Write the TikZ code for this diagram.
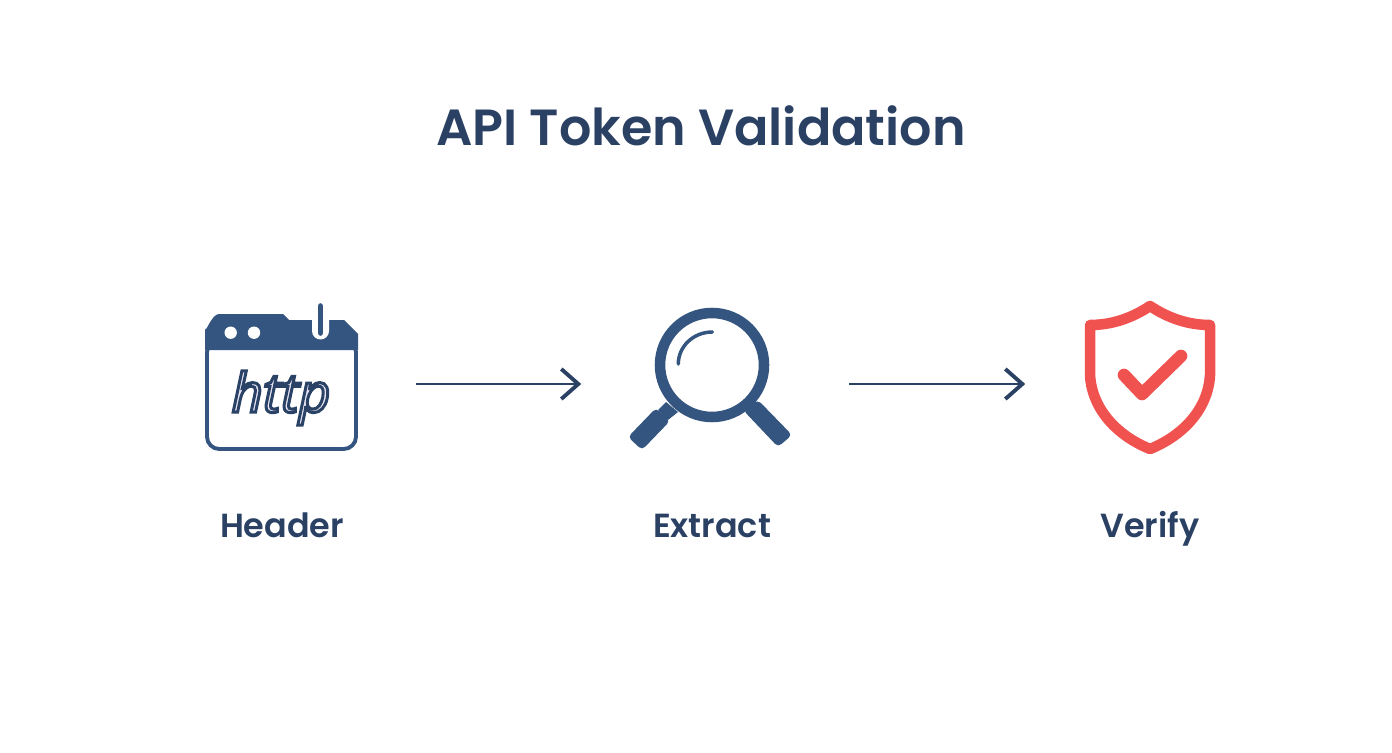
\documentclass[tikz,border=0pt]{standalone}
\usepackage{fontspec}
\setmainfont{Poppins SemiBold}
\newfontfamily\httpfont{Open Sans}
\usetikzlibrary{arrows.meta}
\definecolor{navy}{HTML}{2A4164}
\definecolor{iconblue}{HTML}{34557F}
\definecolor{shieldred}{HTML}{F0524F}
\tikzset{
 label/.style={text=navy,font=\fontsize{9.5}{11}\selectfont,inner sep=0pt,anchor=base},
 slot/.style={minimum height=1cm,inner sep=0pt},
 flow/.style={navy,line width=0.85pt,-{Straight Barb[length=1.7mm,width=3mm,line width=1.1pt]}},
}
\newcommand{\outlined}[1]{\special{pdf:code q 2 Tr 0.85 w 0.16 0.26 0.40 RG 0.91 0.90 0.96 rg}#1\special{pdf:code Q}}
\begin{document}
\begin{tikzpicture}[x=0.01cm,y=-0.01cm]
 \useasboundingbox (0,0) rectangle (1392,752);
 \node[text=navy,font=\fontsize{14.45}{18}\selectfont,inner sep=0pt,anchor=base] (title) at (701,146) {API Token Validation};
 % slots that the arrows run between
 \node[slot,minimum width=2.67cm] (header) at (281.5,384) {};
 \node[slot,minimum width=2.66cm] (extract) at (715,384) {};
 \node[slot,minimum width=2.48cm] (verify) at (1150,384) {};
 \draw[flow] (header.east) -- (extract.west);
 \draw[flow] (extract.east) -- (verify.west);
 % browser window
 \draw[iconblue,line width=1.1pt,rounded corners=3.5pt] (207,340) rectangle (356,449);
 \fill[iconblue] (205,350) -- (205,328) to[out=-90,in=180] (219,314) -- (283,314) -- (289,320) -- (344,320) -- (358,334) -- (358,350) -- cycle;
 \fill[white] (312,318) -- (312,331) arc (180:0:8.5) -- (329,318) -- cycle;
 \draw[iconblue,line width=1.6pt,line cap=round] (320.5,306) -- (320.5,333);
 \fill[white] (230.7,332.7) circle (6.2) (254,332.7) circle (6.2);
 \node[font=\httpfont\fontsize{15.5}{16}\selectfont\itshape,inner sep=0pt] (http) at (281,398) {\outlined{http}};
 % magnifier
 \draw[iconblue,line width=3pt] (712,365) circle (52);
 \draw[iconblue,line width=1pt,line cap=round] (678.3,364) arc (180:270:34 and 32);
 \fill[iconblue] (666,402) -- (678,412) -- (668,420) -- (658,410) -- cycle;
 \fill[iconblue,rounded corners=1.2pt] (656,408) -- (670,421) -- (642,450) -- (628,437) -- cycle;
 \fill[iconblue,rounded corners=1.2pt] (758,400) -- (792,435) -- (778,447) -- (743,410) -- cycle;
 % shield
 \draw[shieldred,line width=3pt,line join=round] (1150,306) .. controls (1132,318) and (1112,325) .. (1090,325) -- (1090,375) .. controls (1092,410) and (1118,436) .. (1150,449) .. controls (1182,436) and (1208,410) .. (1210,375) -- (1210,325) .. controls (1188,325) and (1168,318) .. (1150,306) -- cycle;
 \draw[shieldred,line width=3.6pt,line cap=round,line join=round] (1124,375) -- (1142,394) -- (1181,356);
 \node[label] (headerlabel) at (282,537) {Header};
 \node[label] (extractlabel) at (712,537) {Extract};
 \node[label] (verifylabel) at (1150,537) {Verify};
\end{tikzpicture}
\end{document}
